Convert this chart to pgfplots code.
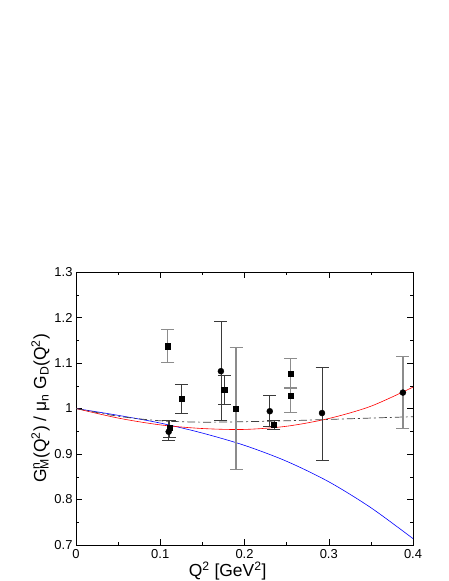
\documentclass[border=0pt]{standalone}
\usepackage{fontspec}
\setmainfont{Liberation Sans}
\usepackage{pgfplots}
\pgfplotsset{compat=1.18}

\definecolor{darkbar}{HTML}{3A3A3A}
\definecolor{lightbar}{HTML}{8C8C8C}
\definecolor{dashgrey}{HTML}{404040}

% data: x, y, upper error, lower error
\pgfplotstableread{
x      y      ep     em
0.109  1.137  0.036  0.036
0.190  0.999  0.134  0.134
0.255  1.077  0.032  0.032
0.255  1.029  0.017  0.038
}\sqlight
\pgfplotstableread{
x      y      ep     em
0.125  1.022  0.032  0.033
0.176  1.041  0.031  0.032
0.235  0.964  0.009  0.010
0.111  0.957  0.016  0.020
}\sqdark
\pgfplotstableread{
x      y      ep     em
0.172  1.082  0.109  0.109
0.230  0.994  0.035  0.033
0.292  0.990  0.101  0.103
0.110  0.949  0.024  0.019
}\cidark
\pgfplotstableread{
x      y      ep     em
0.388  1.035  0.080  0.080
}\cilight

\begin{document}
\begin{tikzpicture}
\useasboundingbox (0,0) rectangle (449bp,581bp);
\begin{axis}[
  at={(76bp,36bp)}, anchor=south west,
  scale only axis,
  width=337bp, height=273bp,
  xmin=0, xmax=0.4, ymin=0.7, ymax=1.3,
  xtick={0,0.1,...,0.4},
  ytick={0.7,0.8,...,1.3},
  minor x tick num=1, minor y tick num=1,
  tick align=inside,
  major tick length=6bp, minor tick length=3bp,
  every tick/.style={black, line width=0.5pt},
  axis line style={black, line width=0.6pt},
  xticklabels={0,0.1,0.2,0.3,0.4},
  yticklabels={0.7,0.8,0.9,1,1.1,1.2,1.3},
  tick label style={font=\fontsize{13}{15}\selectfont},
  xticklabel style={yshift=-1bp},
  xlabel={Q\textsuperscript{2} [GeV\textsuperscript{2}]},
  ylabel={G\rlap{\textsuperscript{n}}\textsubscript{M}(Q\textsuperscript{2}) / μ\textsubscript{n} G\textsubscript{D}(Q\textsuperscript{2})},
  label style={font=\fontsize{17.5}{20}\selectfont},
  xlabel style={at={(axis description cs:0.45,0)}, anchor=north, yshift=-13bp},
  ylabel style={yshift=-2bp},
]
% model curves
\addplot[blue, line width=0.6pt, smooth] coordinates {
  (0,1.000) (0.05,0.985) (0.10,0.968) (0.15,0.946) (0.20,0.919)
  (0.25,0.884) (0.30,0.839) (0.35,0.782) (0.40,0.714)
};
\addplot[red, line width=0.6pt, smooth] coordinates {
  (0,1.000) (0.05,0.979) (0.10,0.964) (0.15,0.956) (0.20,0.954)
  (0.25,0.961) (0.30,0.978) (0.35,1.005) (0.40,1.047)
};
\addplot[dashgrey, line width=0.7pt, smooth, dash pattern=on 8bp off 3bp on 2bp off 3bp] coordinates {
  (0,1.000) (0.05,0.983) (0.10,0.973) (0.15,0.970) (0.20,0.971)
  (0.25,0.973) (0.30,0.976) (0.35,0.979) (0.40,0.982)
};
% data with error bars
\addplot[only marks, mark=square*, mark size=2.6bp, black,
  error bars/.cd, y dir=both, y explicit,
  error bar style={lightbar, line width=1.3pt},
  error mark options={rotate=90, mark size=6.5bp, lightbar, line width=1pt}]
  table[x=x, y=y, y error plus=ep, y error minus=em] {\sqlight};
\addplot[only marks, mark=square*, mark size=2.6bp, black,
  error bars/.cd, y dir=both, y explicit,
  error bar style={darkbar, line width=0.7pt},
  error mark options={rotate=90, mark size=6.5bp, darkbar, line width=0.7pt}]
  table[x=x, y=y, y error plus=ep, y error minus=em] {\sqdark};
\addplot[only marks, mark=*, mark size=3bp, black,
  error bars/.cd, y dir=both, y explicit,
  error bar style={darkbar, line width=0.7pt},
  error mark options={rotate=90, mark size=6.5bp, darkbar, line width=0.7pt}]
  table[x=x, y=y, y error plus=ep, y error minus=em] {\cidark};
\addplot[only marks, mark=*, mark size=3bp, black,
  error bars/.cd, y dir=both, y explicit,
  error bar style={lightbar, line width=1.3pt},
  error mark options={rotate=90, mark size=6.5bp, lightbar, line width=1pt}]
  table[x=x, y=y, y error plus=ep, y error minus=em] {\cilight};
\end{axis}
\end{tikzpicture}
\end{document}
